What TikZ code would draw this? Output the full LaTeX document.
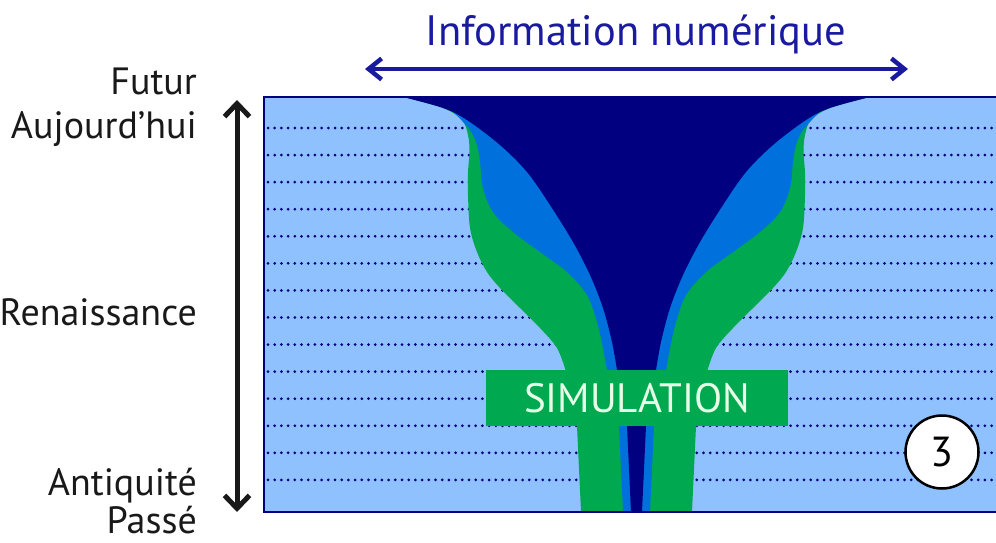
\documentclass[tikz,border=0pt]{standalone}
\usepackage{fontspec}
\setmainfont{PT Sans}
\usetikzlibrary{arrows.meta}

\definecolor{fondbleu}{HTML}{8FC1FF}
\definecolor{bleunuit}{HTML}{000080}
\definecolor{bleumoyen}{HTML}{0070DD}
\definecolor{vert}{HTML}{00A850}
\definecolor{bleutexte}{HTML}{1A1AA0}
\definecolor{textesimu}{HTML}{E6FFE6}

\begin{document}
\begin{tikzpicture}[x=1pt, y=-1pt,
    etiquette/.style={anchor=base east, inner sep=0pt, text=black!90, font=\fontsize{38}{44}\selectfont},
    boite/.style={fill=vert, minimum width=302pt, minimum height=56pt, inner sep=0pt, text=textesimu, font=\fontsize{41}{48}\selectfont},
    rond/.style={circle, draw=black, line width=2.5pt, fill=white, minimum size=73pt, inner sep=0pt, font=\fontsize{42}{48}\selectfont},
    pointilles/.style={bleunuit, line width=3pt, line cap=round, dash pattern=on 0pt off 6.7pt}]
    \useasboundingbox (0,0) rectangle (996,543);

    % Background of the time axis
    \fill[fondbleu] (264,97) rectangle (1000,512);
    \foreach \k in {0,...,13}
    {
        \draw[pointilles] (268,128+27.07*\k) -- (996,128+27.07*\k);
    }

    % Funnel, each layer drawn half by half
    \foreach \s in {1,-1}
    {
        \fill[vert, shift={(636.5,0)}, xscale=\s] plot[smooth, tension=0.55] coordinates {(-233.5,97) (-193.5,108) (-174.5,120) (-168.5,135) (-167,152) (-168.5,172) (-168.5,195) (-166.5,228) (-159.5,252) (-149.5,272) (-136.5,288) (-116.5,308) (-96.5,328) (-79.5,348) (-71,370)}
            -- (-59.5,426) -- (-55.5,512) -- (3,512) -- (3,97) -- cycle;
    }
    \foreach \s in {1,-1}
    {
        \fill[bleumoyen, shift={(636.5,0)}, xscale=\s] plot[smooth, tension=0.55] coordinates {(-182,113) (-166.5,130) (-159.5,145) (-156.5,162) (-153.5,188) (-143.5,212) (-123.5,232) (-96.5,252) (-69.5,272) (-49.5,295) (-39.5,322) (-33.5,348) (-29.5,370)}
            -- (-17.5,426) -- (-13.5,512) -- (3,512) -- (3,113) -- cycle;
    }
    \foreach \s in {1,-1}
    {
        \fill[bleunuit, shift={(636.5,0)}, xscale=\s] plot[smooth, tension=0.55] coordinates {(-233.5,97) (-193.5,108) (-169.5,120) (-136.5,145) (-109.5,172) (-86.5,205) (-63.5,242) (-46.5,275) (-33.5,308) (-24.5,342) (-19.5,370)}
            -- (-9.5,426) -- (-5.5,512) -- (3,512) -- (3,97) -- cycle;
    }
    \draw[bleunuit, line width=2pt] (264,97) rectangle (1000,512);

    % Labels
    \node[boite] (simu) at (637,398) {SIMULATION};
    \node[rond] (etape) at (942,452) {3};
    \node[anchor=base, inner sep=0pt, text=bleutexte, font=\fontsize{42.5}{48}\selectfont] (info) at (636,46) {Information numérique};

    \node[etiquette] (futur) at (197,95) {Futur};
    \node[etiquette] (aujourdhui) at (197,138) {Aujourd’hui};
    \node[etiquette] (renaissance) at (197,325) {Renaissance};
    \node[etiquette] (antiquite) at (197,495) {Antiquité};
    \node[etiquette] (passe) at (197,533) {Passé};

    % Arrows
    \coordinate (haut) at (237,100);
    \coordinate (bas) at (237,512);
    \draw[{Straight Barb[length=13pt, width=25pt]}-{Straight Barb[length=13pt, width=25pt]}, line width=5pt, black!90] (haut) -- (bas);
    \coordinate (gauche) at (365,69);
    \coordinate (droite) at (908,69);
    \draw[{Straight Barb[length=13pt, width=21pt]}-{Straight Barb[length=13pt, width=21pt]}, line width=4.5pt, bleutexte] (gauche) -- (droite);
\end{tikzpicture}
\end{document}
